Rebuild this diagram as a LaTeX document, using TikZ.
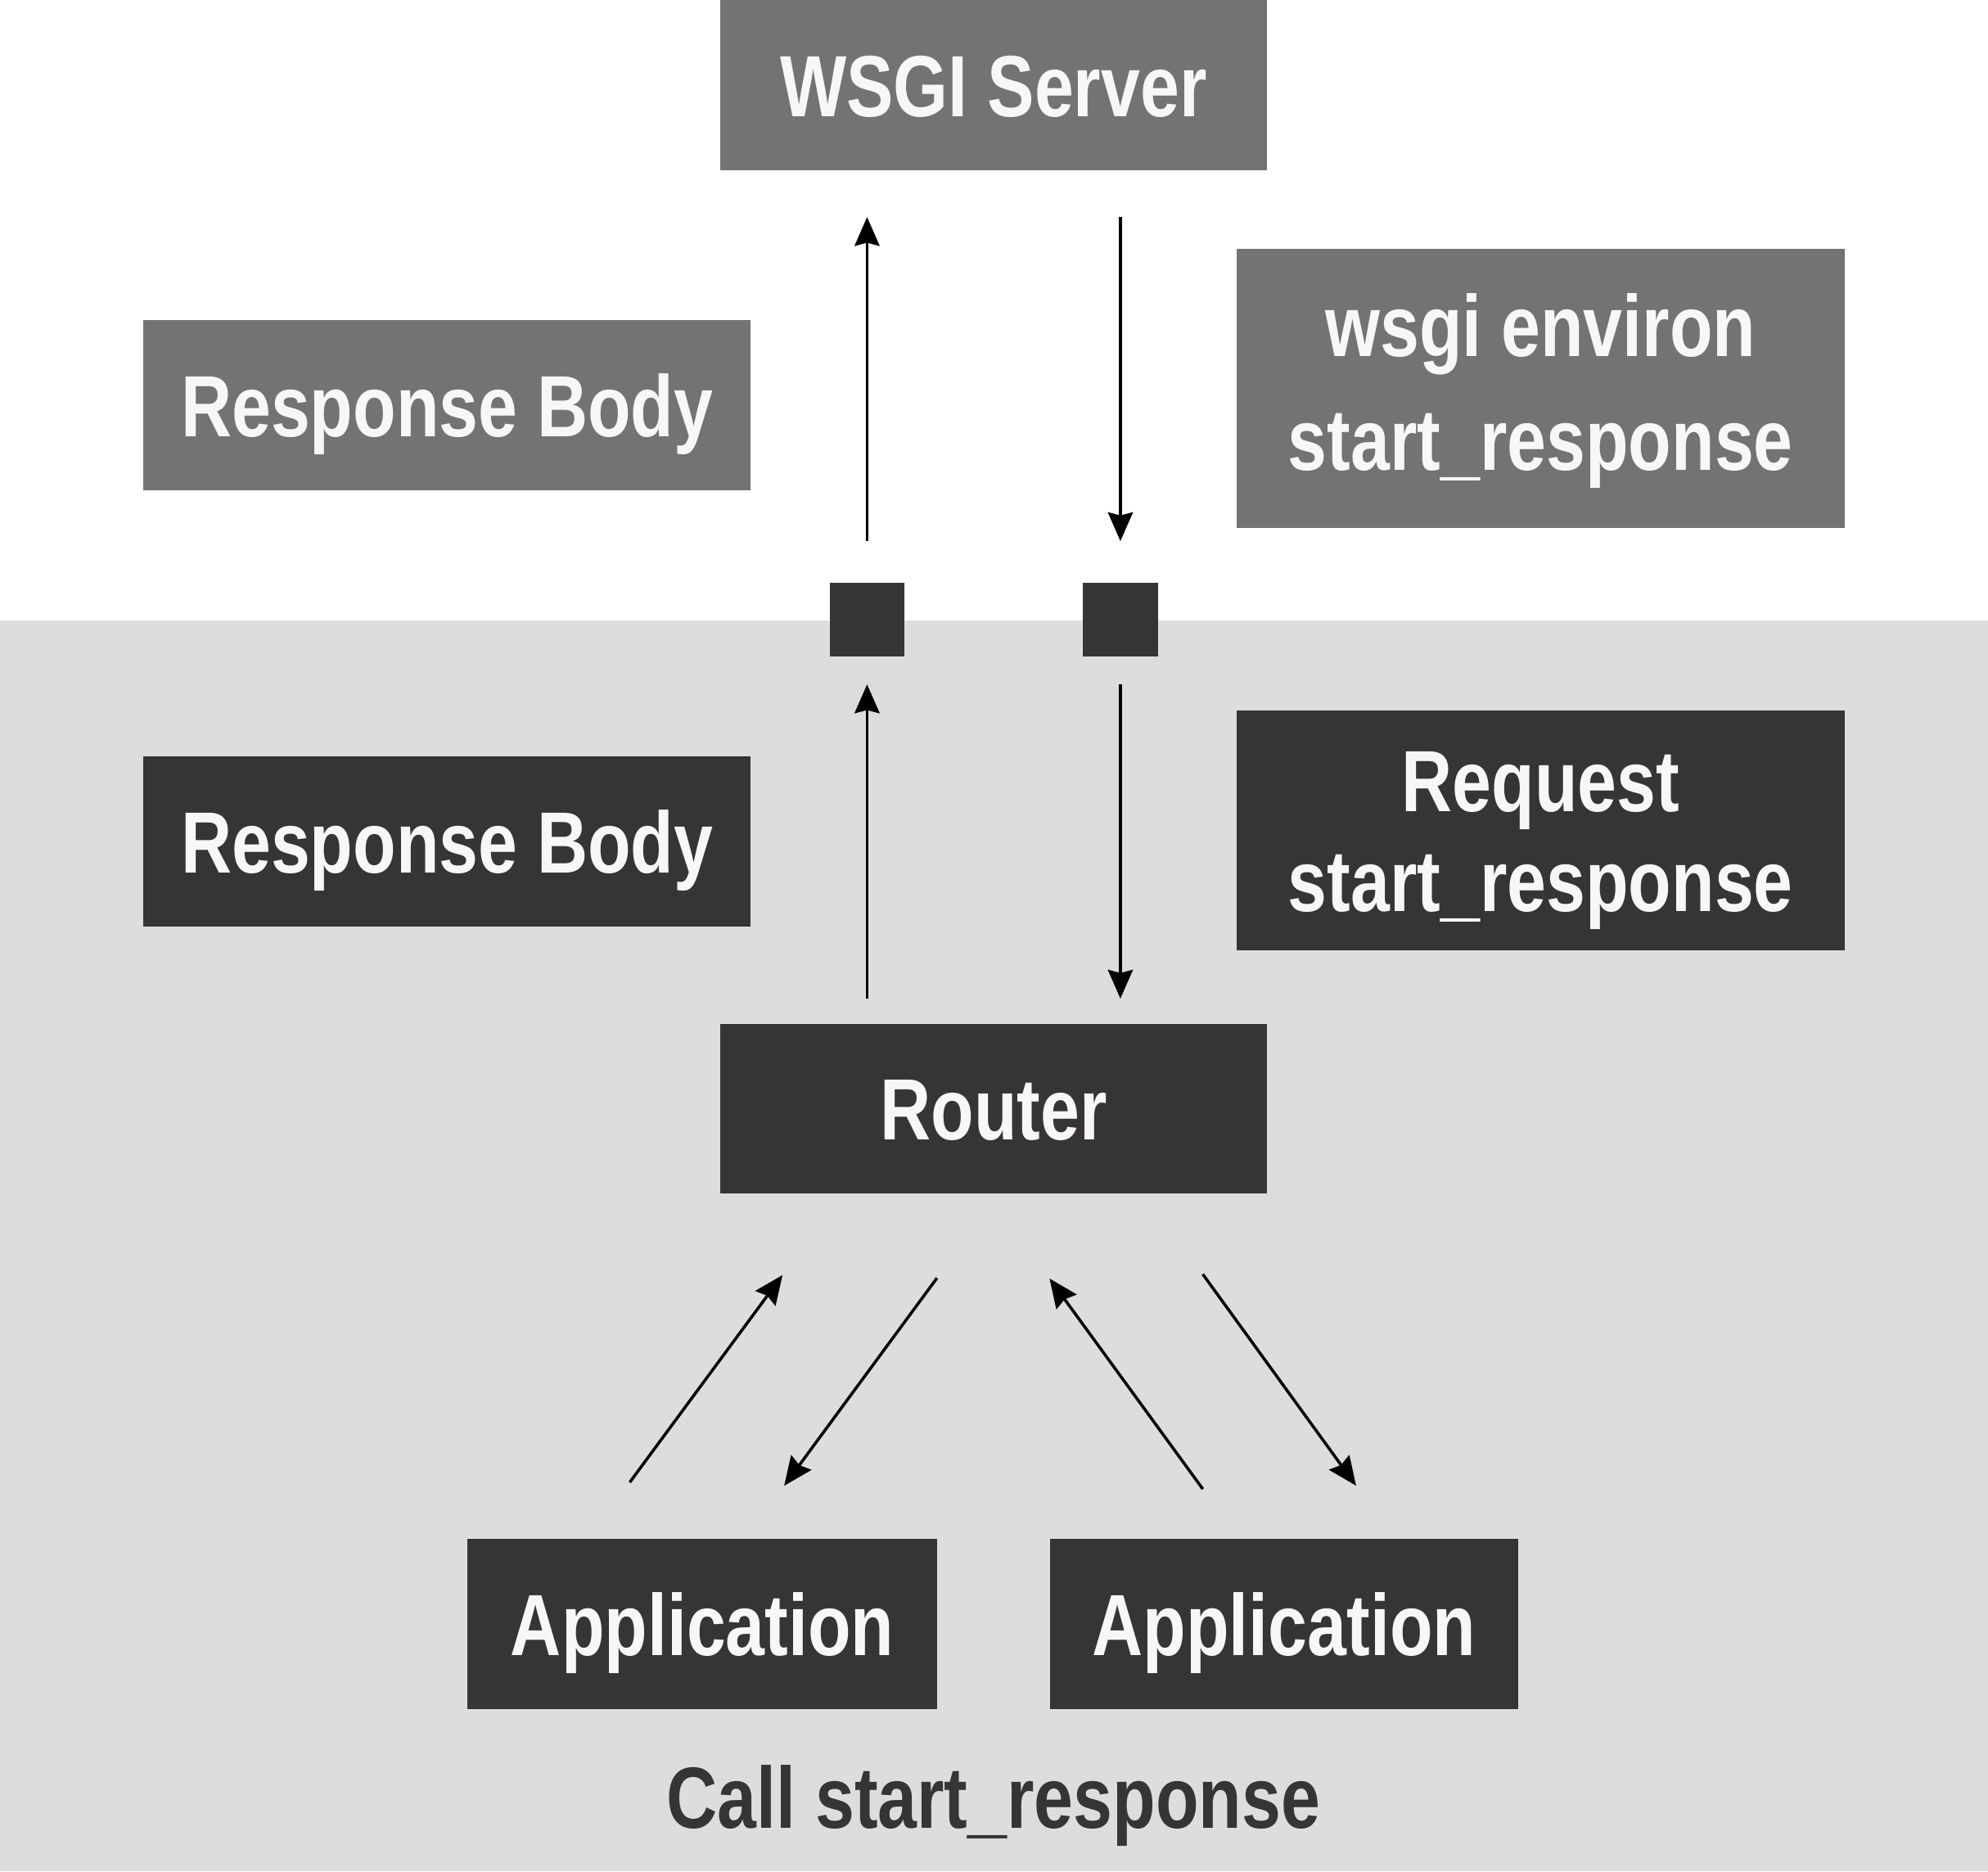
\documentclass[tikz,border=0pt]{standalone}
\usepackage{fontspec}
\setmainfont{Liberation Sans}[FakeStretch=0.81]
\usepackage{tikz}
\usetikzlibrary{arrows.meta,calc}
\definecolor{wsgiGray}{HTML}{737373}
\definecolor{wsgiDark}{HTML}{373533}
\definecolor{wsgiBg}{HTML}{DCDEDD}
\definecolor{wsgiText}{HTML}{F6F8F7}
\tikzset{
  labelbox/.style={inner sep=0pt, text=wsgiText, align=center,
                   font=\fontsize{19.5}{24}\selectfont\bfseries,
                   text height=0.49cm, text depth=0pt},
  srvbox/.style={labelbox, fill=wsgiGray},
  appbox/.style={labelbox, fill=wsgiDark},
  portbox/.style={fill=wsgiDark, inner sep=0pt, minimum width=0.588cm,
                  minimum height=0.585cm},
  flowarrow/.style={-{Stealth[length=0.227cm, width=0.196cm, inset=0.025cm]},
                    line width=0.023cm},
}

\begin{document}
\begin{tikzpicture}[x=0.01cm, y=-0.01cm]
\def\yBand{489.2}   % top of the application band
\useasboundingbox (0,0) rectangle (1568,1475.7);

%% Application band
\fill[wsgiBg] (0,\yBand) rectangle (1568,1475.7);

%% Server side
\node[srvbox, minimum width=4.313cm, minimum height=1.344cm] (server) at (783.65,67.2) {WSGI Server};
\node[srvbox, minimum width=4.787cm, minimum height=1.342cm] (bodyTop) at (352.65,319.8) {Response Body};
\node[srvbox, minimum width=4.794cm, minimum height=2.2cm,
      font=\fontsize{19.5}{25.6}\selectfont\bfseries,
      text height=1.30cm, text depth=0pt] (environ) at (1215.1,306) {wsgi environ\\start\_response};

%% Ports on the band edge
\node[portbox] (portL) at (683.9,488.65) {};
\node[portbox] (portR) at (883.7,488.65) {};

%% Application side
\node[appbox, minimum width=4.787cm, minimum height=1.343cm] (bodyLow) at (352.65,663.65) {Response Body};
\node[appbox, minimum width=4.794cm, minimum height=1.893cm,
      font=\fontsize{19.5}{22.4}\selectfont\bfseries,
      text height=1.275cm, text depth=0pt] (request) at (1215.1,654.85) {Request\\start\_response};
\node[appbox, minimum width=4.313cm, minimum height=1.338cm] (router) at (783.65,874.4) {Router};
\node[appbox, minimum width=3.70cm, minimum height=1.344cm] (app1) at (554,1280.8) {Application};
\node[appbox, minimum width=3.69cm, minimum height=1.344cm] (app2) at (1012.8,1280.8) {Application};
\node[inner sep=0pt, anchor=base, text=wsgiDark, font=\fontsize{19.5}{24}\selectfont\bfseries] (callnote) at (783.6,1441.7) {Call start\_response};

%% Server <-> ports
\draw[flowarrow, shorten <=0.319cm, shorten >=0.36cm] (portL.north) -- (portL.north |- server.south);
\draw[flowarrow, shorten <=0.36cm, shorten >=0.319cm] (portR.north |- server.south) -- (portR.north);

%% Ports <-> router
\draw[flowarrow, shorten <=0.192cm, shorten >=0.211cm] (portL.south |- router.north) -- (portL.south);
\draw[flowarrow, shorten <=0.211cm, shorten >=0.192cm] (portR.south) -- (portR.south |- router.north);

%% Router <-> applications
\coordinate (r1) at (617.2,1005.6);  \coordinate (a1) at (496.7,1169);
\coordinate (r2) at (739,1007.9);    \coordinate (a2) at (618.5,1171.7);
\coordinate (r3) at (827.8,1008.3);  \coordinate (a3) at (948.7,1174.3);
\coordinate (r4) at (948.7,1004.9);  \coordinate (a4) at (1069.6,1171.7);
\foreach \src/\dst in {a1/r1, r2/a2, a3/r3, r4/a4} {
  \draw[flowarrow] (\src) -- (\dst);
}
\end{tikzpicture}
\end{document}
